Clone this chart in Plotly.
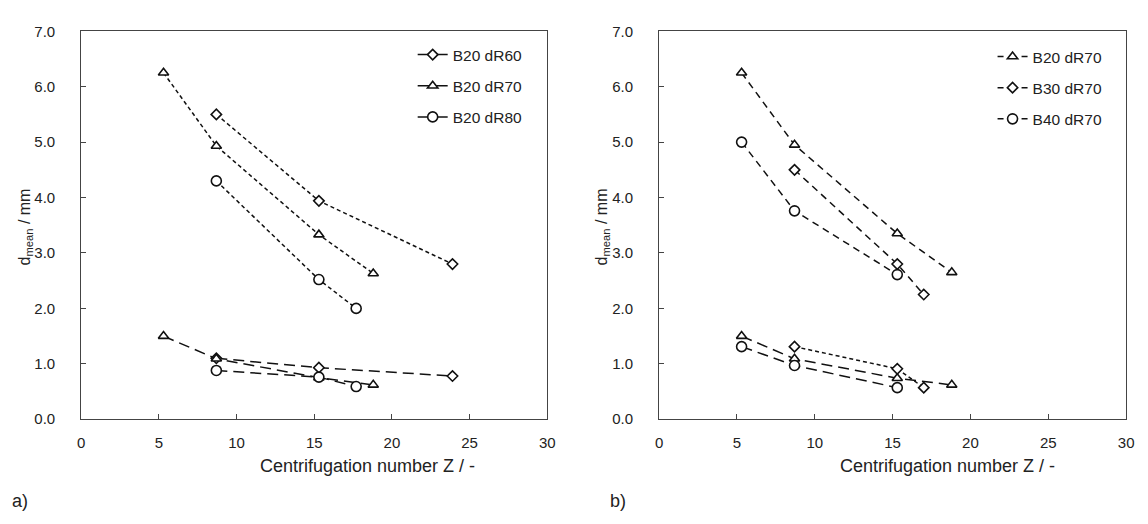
import plotly.graph_objects as go

# ---------------- data ----------------
# Panel a)
a_dR60_x = [8.7, 15.3, 23.9]
a_dR60_up = [5.50, 3.94, 2.80]
a_dR60_lo = [1.10, 0.93, 0.78]

a_dR70_x = [5.3, 8.7, 15.3, 18.8]
a_dR70_up = [6.25, 4.93, 3.33, 2.63]
a_dR70_lo = [1.50, 1.09, 0.75, 0.62]

a_dR80_x = [8.7, 15.3, 17.7]
a_dR80_up = [4.30, 2.52, 2.00]
a_dR80_lo = [0.88, 0.76, 0.59]

# Panel b)
b_B20_x = [5.3, 8.7, 15.3, 18.8]
b_B20_up = [6.25, 4.95, 3.35, 2.65]
b_B20_lo = [1.50, 1.09, 0.74, 0.62]

b_B30_x = [8.7, 15.3, 17.0]
b_B30_up = [4.50, 2.80, 2.25]
b_B30_lo = [1.31, 0.91, 0.57]

b_B40_x = [5.3, 8.7, 15.3]
b_B40_up = [5.00, 3.76, 2.61]
b_B40_lo = [1.31, 0.97, 0.57]

x_ticks = [0, 5, 10, 15, 20, 25, 30]
y_ticks = [0, 1, 2, 3, 4, 5, 6, 7]

FONT = "Liberation Sans, Arial, sans-serif"
BLACK = "#111111"
TXT = "#222222"

def mk(sym, size):
    return dict(symbol=sym, size=size, color="white",
                line=dict(color=BLACK, width=1.6))

TRI = mk("triangle-up", 9)
DIA = mk("diamond", 8)
CIR = mk("circle", 10)

SHORT = "4px,3px"
MED = "7px,5px"
LONG = "11px,6px"

fig = go.Figure()

def line(x, y, marker, dash, xa, ya):
    fig.add_trace(go.Scatter(x=x, y=y, mode="lines+markers", xaxis=xa, yaxis=ya,
                             line=dict(color=BLACK, width=1.5, dash=dash),
                             marker=marker, showlegend=False, hoverinfo="skip"))

# panel a
line(a_dR60_x, a_dR60_up, DIA, SHORT, "x", "y")
line(a_dR70_x, a_dR70_up, TRI, SHORT, "x", "y")
line(a_dR80_x, a_dR80_up, CIR, SHORT, "x", "y")
line(a_dR60_x, a_dR60_lo, DIA, LONG, "x", "y")
line(a_dR70_x, a_dR70_lo, TRI, LONG, "x", "y")
line(a_dR80_x, a_dR80_lo, CIR, LONG, "x", "y")

# panel b
line(b_B20_x, b_B20_up, TRI, MED, "x2", "y2")
line(b_B30_x, b_B30_up, DIA, MED, "x2", "y2")
line(b_B40_x, b_B40_up, CIR, MED, "x2", "y2")
line(b_B20_x, b_B20_lo, TRI, LONG, "x2", "y2")
line(b_B30_x, b_B30_lo, DIA, SHORT, "x2", "y2")
line(b_B40_x, b_B40_lo, CIR, LONG, "x2", "y2")

# legend entries
def leg(name, marker, dash, legend, xa, ya):
    fig.add_trace(go.Scatter(x=[None], y=[None], mode="lines+markers", name=name,
                             xaxis=xa, yaxis=ya, legend=legend, legendgroup=name + legend,
                             line=dict(color=BLACK, width=1.5, dash=dash),
                             marker=marker, showlegend=True))

leg("B20 dR60", DIA, "solid", "legend", "x", "y")
leg("B20 dR70", TRI, "solid", "legend", "x", "y")
leg("B20 dR80", CIR, "solid", "legend", "x", "y")
leg("B20 dR70", TRI, "6px,6px", "legend2", "x2", "y2")
leg("B30 dR70", DIA, "6px,6px", "legend2", "x2", "y2")
leg("B40 dR70", CIR, "6px,6px", "legend2", "x2", "y2")

W, H = 1148, 524
y_dom = [(H - 424) / H, (H - 23) / H]
xa_dom = [78 / W, 549 / W]
xb_dom = [662 / W, 1134 / W]

axis_common = dict(showline=True, mirror=True, linecolor="#444444", linewidth=1,
                   ticks="inside", ticklen=5, tickcolor="#444444", showgrid=False,
                   zeroline=False, tickfont=dict(family=FONT, size=15, color=TXT))

fig.update_layout(
    width=W, height=H, margin=dict(l=0, r=0, t=0, b=0),
    paper_bgcolor="white", plot_bgcolor="white",
    font=dict(family=FONT, size=15, color=TXT),
    xaxis=dict(domain=xa_dom, range=[0, 30], tickvals=x_ticks, anchor="y",
               ticklabelstandoff=10, **axis_common),
    yaxis=dict(domain=y_dom, range=[0, 7], tickvals=y_ticks, tickformat=".1f", anchor="x",
               ticklabelstandoff=22, **axis_common),
    xaxis2=dict(domain=xb_dom, range=[0, 30], tickvals=x_ticks, anchor="y2",
                ticklabelstandoff=10, **axis_common),
    yaxis2=dict(domain=y_dom, range=[0, 7], tickvals=y_ticks, tickformat=".1f", anchor="x2",
                ticklabelstandoff=22, **axis_common),
    legend=dict(x=413 / W, y=1 - 30 / H, xanchor="left", yanchor="top",
                bgcolor="rgba(0,0,0,0)", tracegroupgap=8,
                font=dict(family=FONT, size=15.5, color=TXT)),
    legend2=dict(x=999 / W, y=1 - 32 / H, xanchor="left", yanchor="top",
                 bgcolor="rgba(0,0,0,0)", tracegroupgap=8,
                 font=dict(family=FONT, size=15.5, color=TXT)),
)

ann = []
for cx in [367, 953]:
    ann.append(dict(x=cx / W, y=1 - 472 / H, xref="paper", yref="paper",
                    text="Centrifugation number Z / -", showarrow=False,
                    font=dict(family=FONT, size=18, color=TXT),
                    xanchor="center", yanchor="middle"))
for cx in [22, 605]:
    ann.append(dict(x=cx / W, y=1 - 225 / H, xref="paper", yref="paper",
                    text="d<sub>mean</sub> / mm", textangle=-90, showarrow=False,
                    font=dict(family=FONT, size=16, color=TXT),
                    xanchor="center", yanchor="middle"))
ann.append(dict(x=6 / W, y=1 - 508 / H, xref="paper", yref="paper", text="a)",
                showarrow=False, font=dict(family=FONT, size=18, color=TXT),
                xanchor="left", yanchor="middle"))
ann.append(dict(x=610 / W, y=1 - 508 / H, xref="paper", yref="paper", text="b)",
                showarrow=False, font=dict(family=FONT, size=18, color=TXT),
                xanchor="left", yanchor="middle"))
fig.update_layout(annotations=ann)

fig.write_html("out.html")
